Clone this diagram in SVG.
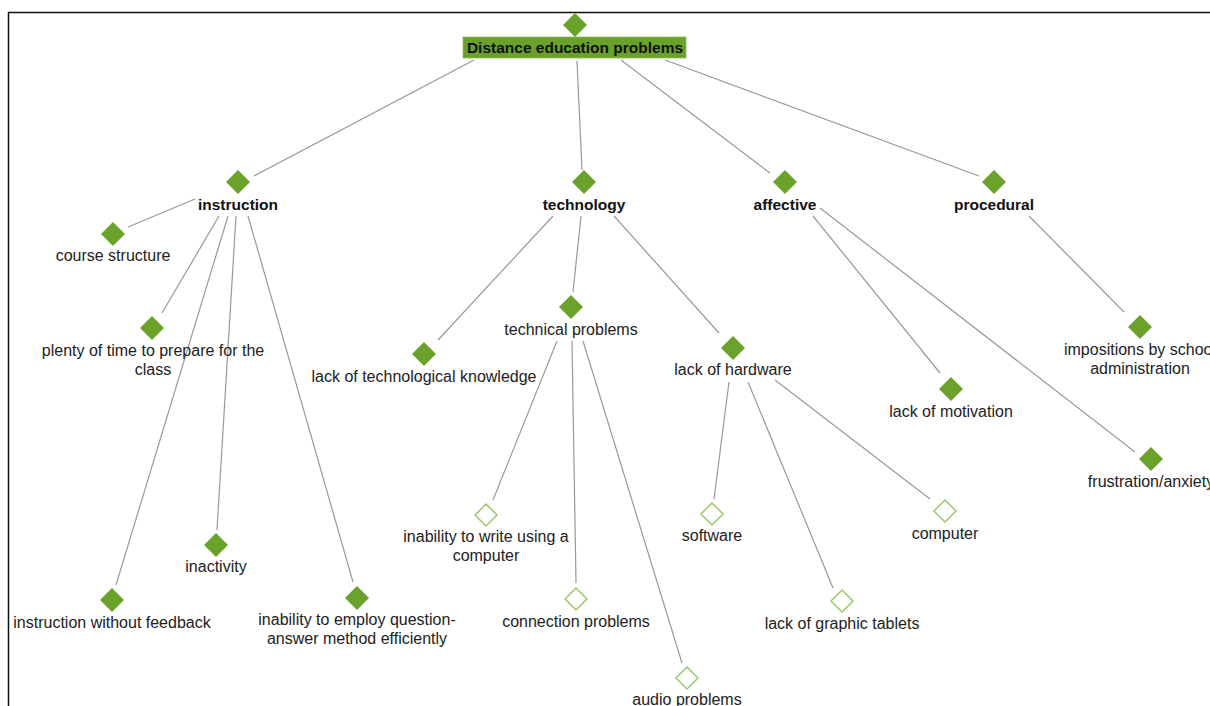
<svg xmlns="http://www.w3.org/2000/svg" width="1210" height="706" viewBox="0 0 1210 706">
<defs>
<style>
.t{font-family:"Liberation Sans",Arial,sans-serif;font-size:16px;fill:#222;text-anchor:middle}
.b{font-weight:bold;fill:#111;font-size:15.5px}
.d{fill:#6aa22c}
.o{fill:#fff;stroke:#9cc96e;stroke-width:1.5}
.c line{stroke:#999;stroke-width:1.2}
</style>
<path id="dia" d="M0,-12 L12,0 L0,12 L-12,0 Z"/>
<path id="dio" d="M0,-11 L11,0 L0,11 L-11,0 Z"/>
</defs>
<rect width="1210" height="706" fill="#fff"/>
<path d="M8.5,706 V12.5 H1210" fill="none" stroke="#111" stroke-width="1.5"/>
<g class="c" id="connectors">
<line x1="474" y1="60" x2="254" y2="176"/>
<line x1="577" y1="61" x2="582" y2="170"/>
<line x1="621" y1="60" x2="770" y2="173"/>
<line x1="665" y1="60" x2="979" y2="176"/>
<line x1="195" y1="199" x2="128" y2="227"/>
<line x1="219" y1="216" x2="162" y2="313"/>
<line x1="228" y1="216" x2="116" y2="585"/>
<line x1="236" y1="216" x2="217" y2="530"/>
<line x1="248" y1="216" x2="353" y2="582"/>
<line x1="553" y1="216" x2="438" y2="340"/>
<line x1="581" y1="216" x2="573" y2="292"/>
<line x1="614" y1="216" x2="719" y2="333"/>
<line x1="557" y1="341" x2="493" y2="500"/>
<line x1="572" y1="341" x2="576" y2="583"/>
<line x1="583" y1="341" x2="682" y2="663"/>
<line x1="729" y1="382" x2="714" y2="499"/>
<line x1="748" y1="382" x2="833" y2="588"/>
<line x1="775" y1="380" x2="930" y2="499"/>
<line x1="813" y1="216" x2="940" y2="373"/>
<line x1="820" y1="208" x2="1135" y2="452"/>
<line x1="1029" y1="216" x2="1124" y2="312"/>
</g>
<g id="root">
<use href="#dia" x="575" y="25" class="d"/>
<rect x="463" y="37" width="223" height="21" fill="#69a12b" stroke="#8cbf5a" stroke-width="0.8"/>
<text class="t b" x="575" y="53">Distance education problems</text>
</g>
<g id="instruction"><use href="#dia" x="238" y="182" class="d"/><text class="t b" x="238" y="210">instruction</text></g>
<g id="technology"><use href="#dia" x="584" y="182" class="d"/><text class="t b" x="584" y="210">technology</text></g>
<g id="affective"><use href="#dia" x="785" y="182" class="d"/><text class="t b" x="785" y="210">affective</text></g>
<g id="procedural"><use href="#dia" x="994" y="182" class="d"/><text class="t b" x="994" y="210">procedural</text></g>
<g id="course-structure"><use href="#dia" x="113" y="234" class="d"/><text class="t" x="113" y="261">course structure</text></g>
<g id="plenty-of-time"><use href="#dia" x="152" y="328" class="d"/><text class="t" x="153" y="356">plenty of time to prepare for the</text><text class="t" x="153" y="375">class</text></g>
<g id="instruction-without-feedback"><use href="#dia" x="112" y="600" class="d"/><text class="t" x="112" y="628">instruction without feedback</text></g>
<g id="inactivity"><use href="#dia" x="216" y="545" class="d"/><text class="t" x="216" y="572">inactivity</text></g>
<g id="inability-employ"><use href="#dia" x="357" y="598" class="d"/><text class="t" x="357" y="625">inability to employ question-</text><text class="t" x="357" y="644">answer method efficiently</text></g>
<g id="lack-tech-knowledge"><use href="#dia" x="424" y="354" class="d"/><text class="t" x="424" y="382">lack of technological knowledge</text></g>
<g id="technical-problems"><use href="#dia" x="571" y="307" class="d"/><text class="t" x="571" y="335">technical problems</text></g>
<g id="lack-hardware"><use href="#dia" x="733" y="348" class="d"/><text class="t" x="733" y="375">lack of hardware</text></g>
<g id="inability-write"><use href="#dio" x="486" y="515" class="o"/><text class="t" x="486" y="542">inability to write using a</text><text class="t" x="486" y="561">computer</text></g>
<g id="connection-problems"><use href="#dio" x="576" y="599" class="o"/><text class="t" x="576" y="627">connection problems</text></g>
<g id="audio-problems"><use href="#dio" x="687" y="678" class="o"/><text class="t" x="687" y="705">audio problems</text></g>
<g id="software"><use href="#dio" x="712" y="514" class="o"/><text class="t" x="712" y="541">software</text></g>
<g id="graphic-tablets"><use href="#dio" x="842" y="601" class="o"/><text class="t" x="842" y="629">lack of graphic tablets</text></g>
<g id="computer"><use href="#dio" x="945" y="511" class="o"/><text class="t" x="945" y="539">computer</text></g>
<g id="lack-motivation"><use href="#dia" x="951" y="389" class="d"/><text class="t" x="951" y="417">lack of motivation</text></g>
<g id="frustration"><use href="#dia" x="1151" y="459" class="d"/><text class="t" x="1151" y="487">frustration/anxiety</text></g>
<g id="impositions"><use href="#dia" x="1140" y="327" class="d"/><text class="t" x="1140" y="355">impositions by school</text><text class="t" x="1140" y="374">administration</text></g>
</svg>
